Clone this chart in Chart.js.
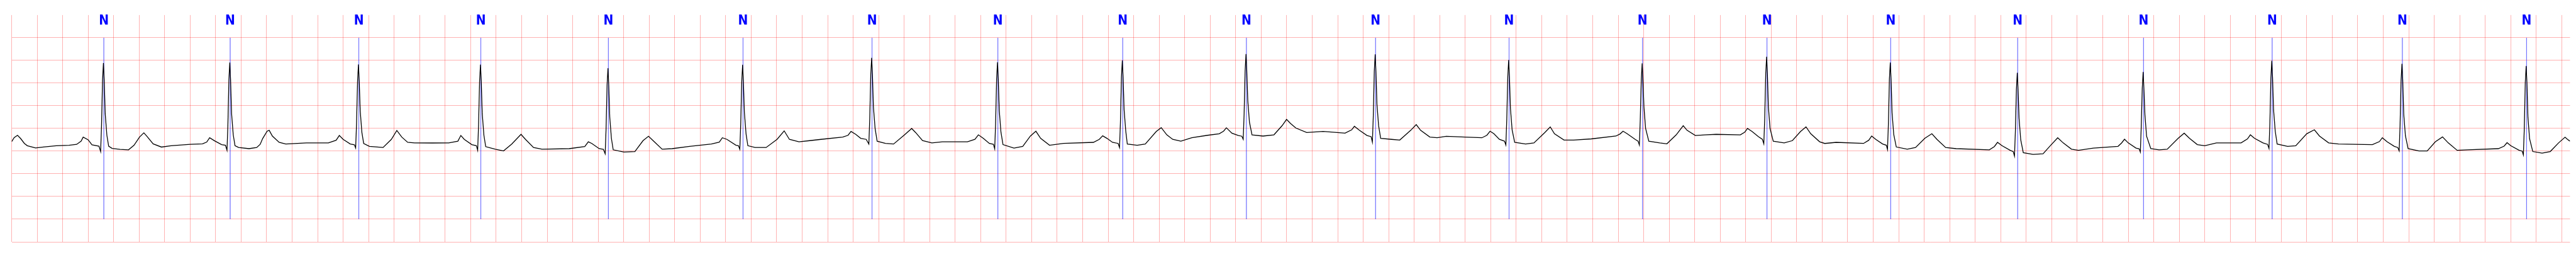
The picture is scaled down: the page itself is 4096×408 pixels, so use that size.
<!DOCTYPE html>
<html lang="en">
<head>
    <meta charset="UTF-8">
    <title>ECG strip</title>
    <style>
        html, body {
            margin: 0;
            padding: 0;
            background: #ffffff;
            overflow: hidden;
        }

        canvas {
            display: block;
        }
    </style>
</head>
<body>
    <canvas id="ecgChart" width="4096" height="408"></canvas>

    <script src="https://cdn.jsdelivr.net/npm/chart.js@4.4.3/dist/chart.umd.min.js"></script>
    <script>
        // time in seconds, amplitude in mV (grid: 0.2 s x 0.5 mV)
        const ecgSamples = [
            [0,-0.29],[0.02,-0.2],[0.046,-0.15],[0.07,-0.22],[0.1,-0.33],[0.123,-0.38],[0.188,-0.43],[0.25,-0.41],[0.35,-0.38],[0.45,-0.37],[0.51,-0.35],
            [0.545,-0.28],[0.561,-0.19],[0.6,-0.25],[0.63,-0.36],[0.685,-0.39],[0.698,-0.51],[0.705,0.06],[0.713,1.07],[0.72,1.444],[0.726,1.07],[0.734,0.32],[0.747,-0.15],[0.761,-0.39],[0.788,-0.44],[0.85,-0.46],[0.917,-0.47],[0.96,-0.37],[1.003,-0.19],[1.037,-0.096],[1.06,-0.17],[1.11,-0.34],[1.175,-0.41],[1.25,-0.38],[1.4,-0.35],[1.497,-0.34],
            [1.53,-0.3],[1.553,-0.205],[1.59,-0.27],[1.647,-0.356],[1.677,-0.37],[1.689,-0.48],[1.696,0.07],[1.704,1.08],[1.711,1.455],[1.717,1.08],[1.725,0.33],[1.738,-0.14],[1.752,-0.38],[1.78,-0.42],[1.862,-0.445],[1.922,-0.42],[1.949,-0.35],[1.969,-0.22],[2.004,-0.06],[2.02,-0.04],[2.045,-0.167],[2.098,-0.306],[2.15,-0.343],[2.312,-0.318],[2.484,-0.318],
            [2.545,-0.26],[2.57,-0.154],[2.6,-0.24],[2.656,-0.343],[2.688,-0.36],[2.698,-0.43],[2.705,0.1],[2.713,1.04],[2.72,1.412],[2.726,1.04],[2.734,0.38],[2.747,-0.09],[2.761,-0.33],[2.806,-0.394],[2.913,-0.42],[2.978,-0.24],[3.021,-0.045],[3.06,-0.19],[3.106,-0.306],[3.16,-0.318],[3.3,-0.32],[3.428,-0.318],
            [3.5,-0.28],[3.523,-0.154],[3.55,-0.24],[3.609,-0.356],[3.645,-0.38],[3.655,-0.48],[3.662,0.07],[3.67,1.04],[3.677,1.409],[3.683,1.04],[3.691,0.32],[3.704,-0.15],[3.718,-0.4],[3.793,-0.457],[3.858,-0.495],[3.922,-0.343],[3.995,-0.129],[4.03,-0.24],[4.093,-0.42],[4.16,-0.457],[4.373,-0.445],
            [4.495,-0.4],[4.523,-0.293],[4.55,-0.33],[4.608,-0.445],[4.641,-0.46],[4.655,-0.558],[4.662,-0.01],[4.67,0.96],[4.677,1.328],[4.683,0.96],[4.691,0.25],[4.704,-0.22],[4.718,-0.47],[4.802,-0.52],[4.888,-0.508],[4.952,-0.268],[4.995,-0.172],[5.04,-0.293],[5.102,-0.457],[5.18,-0.445],[5.317,-0.394],[5.488,-0.343],
            [5.55,-0.3],[5.574,-0.205],[5.61,-0.24],[5.681,-0.37],[5.7,-0.38],[5.711,-0.457],[5.718,0.09],[5.726,1.03],[5.733,1.404],[5.739,1.03],[5.747,0.35],[5.76,-0.12],[5.774,-0.38],[5.831,-0.42],[5.917,-0.42],[6.003,-0.24],[6.059,-0.053],[6.1,-0.24],[6.175,-0.293],[6.26,-0.268],[6.347,-0.24],[6.518,-0.19],
            [6.56,-0.15],[6.583,-0.066],[6.62,-0.13],[6.659,-0.217],[6.702,-0.24],[6.723,-0.343],[6.73,0.21],[6.738,1.19],[6.745,1.556],[6.751,1.19],[6.759,0.47],[6.772,0],[6.788,-0.28],[6.853,-0.33],[6.917,-0.343],[7.003,-0.14],[7.059,0],[7.09,-0.09],[7.144,-0.268],[7.217,-0.318],[7.3,-0.293],[7.496,-0.293],
            [7.555,-0.24],[7.582,-0.14],[7.62,-0.217],[7.668,-0.33],[7.7,-0.35],[7.71,-0.45],[7.717,0.1],[7.725,1.09],[7.732,1.46],[7.738,1.09],[7.746,0.39],[7.759,-0.08],[7.775,-0.356],[7.861,-0.432],[7.93,-0.394],[7.99,-0.167],[8.033,-0.06],[8.07,-0.217],[8.14,-0.37],[8.25,-0.33],[8.484,-0.306],
            [8.53,-0.24],[8.557,-0.162],[8.59,-0.217],[8.634,-0.306],[8.678,-0.33],[8.689,-0.42],[8.696,0.13],[8.704,1.13],[8.711,1.5],[8.717,1.13],[8.725,0.41],[8.738,-0.06],[8.75,-0.343],[8.827,-0.37],[8.891,-0.343],[8.977,-0.066],[9.016,0.018],[9.06,-0.14],[9.106,-0.24],[9.17,-0.28],[9.256,-0.205],[9.38,-0.15],[9.471,-0.116],
            [9.505,-0.06],[9.527,0.015],[9.57,-0.104],[9.621,-0.154],[9.648,-0.17],[9.659,-0.24],[9.666,0.31],[9.674,1.27],[9.681,1.641],[9.687,1.27],[9.695,0.61],[9.708,0.14],[9.728,-0.14],[9.814,-0.167],[9.9,-0.14],[9.964,0.061],[9.999,0.2],[10.03,0.11],[10.072,0.01],[10.157,-0.09],[10.286,-0.066],[10.458,-0.104],
            [10.51,-0.03],[10.531,0.048],[10.57,-0.04],[10.63,-0.154],[10.662,-0.18],[10.672,-0.3],[10.679,0.25],[10.687,1.26],[10.694,1.634],[10.7,1.26],[10.708,0.53],[10.721,0.06],[10.737,-0.217],[10.823,-0.24],[10.887,-0.255],[10.973,-0.04],[11.016,0.086],[11.05,-0.04],[11.123,-0.19],[11.18,-0.205],[11.252,-0.172],[11.4,-0.19],[11.531,-0.205],
            [11.57,-0.15],[11.595,-0.06],[11.625,-0.116],[11.668,-0.24],[11.708,-0.28],[11.719,-0.363],[11.726,0.19],[11.734,1.14],[11.741,1.51],[11.747,1.14],[11.755,0.44],[11.768,-0.03],[11.788,-0.306],[11.874,-0.343],[11.939,-0.318],[12.024,-0.09],[12.067,0.035],[12.1,-0.116],[12.175,-0.255],[12.25,-0.255],[12.389,-0.23],[12.582,-0.167],
            [12.615,-0.12],[12.638,-0.06],[12.67,-0.116],[12.733,-0.24],[12.756,-0.28],[12.766,-0.363],[12.773,0.19],[12.781,1.07],[12.788,1.437],[12.794,1.07],[12.802,0.47],[12.815,0],[12.84,-0.28],[12.926,-0.318],[12.982,-0.338],[13.055,-0.14],[13.11,0.061],[13.14,-0.04],[13.205,-0.154],[13.28,-0.14],[13.368,-0.129],[13.558,-0.14],
            [13.593,-0.08],[13.614,0],[13.65,-0.066],[13.7,-0.18],[13.731,-0.24],[13.742,-0.338],[13.749,0.21],[13.757,1.21],[13.764,1.583],[13.77,1.21],[13.778,0.47],[13.791,0],[13.816,-0.28],[13.902,-0.318],[13.966,-0.268],[14.03,-0.066],[14.073,0.035],[14.11,-0.116],[14.18,-0.293],[14.22,-0.33],[14.309,-0.306],[14.524,-0.33],
            [14.565,-0.26],[14.588,-0.167],[14.62,-0.24],[14.674,-0.343],[14.703,-0.37],[14.712,-0.465],[14.719,0.09],[14.727,1.09],[14.734,1.455],[14.74,1.09],[14.748,0.34],[14.761,-0.13],[14.781,-0.407],[14.867,-0.457],[14.932,-0.42],[15.005,-0.217],[15.06,-0.116],[15.1,-0.24],[15.168,-0.42],[15.25,-0.445],[15.511,-0.47],
            [15.55,-0.4],[15.575,-0.306],[15.61,-0.38],[15.674,-0.482],[15.698,-0.51],[15.708,-0.609],[15.715,-0.06],[15.723,0.86],[15.73,1.227],[15.736,0.86],[15.744,0.22],[15.757,-0.25],[15.777,-0.533],[15.854,-0.571],[15.932,-0.558],[15.992,-0.37],[16.047,-0.205],[16.09,-0.318],[16.155,-0.457],[16.21,-0.482],[16.327,-0.432],[16.52,-0.394],
            [16.548,-0.32],[16.571,-0.237],[16.6,-0.318],[16.661,-0.432],[16.686,-0.45],[16.695,-0.52],[16.702,0.03],[16.71,0.88],[16.717,1.245],[16.723,0.88],[16.731,0.3],[16.744,-0.17],[16.777,-0.445],[16.842,-0.47],[16.906,-0.457],[16.992,-0.217],[17.039,-0.104],[17.08,-0.217],[17.142,-0.356],[17.2,-0.38],[17.292,-0.318],[17.485,-0.318],
            [17.535,-0.23],[17.558,-0.14],[17.59,-0.217],[17.657,-0.318],[17.693,-0.35],[17.704,-0.44],[17.711,0.11],[17.719,1.12],[17.726,1.49],[17.732,1.12],[17.74,0.41],[17.753,-0.06],[17.768,-0.343],[17.85,-0.394],[17.914,-0.38],[18,-0.116],[18.06,-0.028],[18.1,-0.167],[18.172,-0.318],[18.25,-0.343],[18.515,-0.356],
            [18.57,-0.29],[18.593,-0.205],[18.63,-0.293],[18.687,-0.394],[18.714,-0.42],[18.725,-0.495],[18.732,0.06],[18.74,1.06],[18.747,1.424],[18.753,1.06],[18.761,0.31],[18.774,-0.16],[18.795,-0.445],[18.88,-0.495],[18.945,-0.495],[19.009,-0.293],[19.065,-0.187],[19.11,-0.318],[19.18,-0.482],[19.26,-0.47],[19.503,-0.445],
            [19.548,-0.39],[19.571,-0.313],[19.6,-0.38],[19.666,-0.482],[19.69,-0.5],[19.699,-0.583],[19.706,-0.03],[19.714,1.01],[19.721,1.376],[19.727,1.01],[19.735,0.24],[19.748,-0.23],[19.773,-0.508],[19.846,-0.545],[19.91,-0.508],[19.975,-0.318],[20.026,-0.192],[20.045,-0.24],[20.065,-0.28]
        ];

        // beat annotations (sample time of each label)
        const beatTimes = [0.723, 1.714, 2.723, 3.680, 4.680, 5.736, 6.748, 7.735, 8.714, 9.684,
                           10.697, 11.744, 12.791, 13.767, 14.737, 15.733, 16.720, 17.729, 18.750, 19.724];
        const beatLabels = ['N', 'N', 'N', 'N', 'N', 'N', 'N', 'N', 'N', 'N',
                            'N', 'N', 'N', 'N', 'N', 'N', 'N', 'N', 'N', 'N'];

        const timeRange = [0, 20.065];
        const mvRange = [-2.5, 2.5];
        const markerSpan = [-2.0, 2.0];
        const labelLevel = 2.29;

        const gridColor = 'rgba(255, 0, 0, 0.3)';

        // one dataset for all marker lines, broken by NaN gaps
        const markerLine = [];
        beatTimes.forEach(t => {
            markerLine.push({x: t, y: markerSpan[1]});
            markerLine.push({x: t, y: markerSpan[0]});
            markerLine.push({x: t, y: NaN});
        });

        const beatLabelPlugin = {
            id: 'beatLabels',
            afterDatasetsDraw(chart) {
                const ctx = chart.ctx;
                const xs = chart.scales.x;
                const ys = chart.scales.y;
                ctx.save();
                ctx.fillStyle = '#0000ff';
                ctx.font = "bold 21px 'Liberation Sans Narrow', 'DejaVu Sans Condensed', 'Liberation Sans', sans-serif";
                ctx.textAlign = 'center';
                ctx.textBaseline = 'alphabetic';
                beatTimes.forEach((t, i) => {
                    ctx.fillText(beatLabels[i], xs.getPixelForValue(t), ys.getPixelForValue(labelLevel));
                });
                ctx.restore();
            }
        };

        new Chart(document.getElementById('ecgChart'), {
            type: 'scatter',
            data: {
                datasets: [
                    {
                        label: 'ECG',
                        data: ecgSamples.map(([t, v]) => ({x: t, y: v})),
                        showLine: true,
                        borderColor: '#000000',
                        borderWidth: 1.3,
                        pointRadius: 0,
                        tension: 0
                    },
                    {
                        label: 'beats',
                        data: markerLine,
                        showLine: true,
                        spanGaps: false,
                        borderColor: 'rgba(0, 0, 255, 0.35)',
                        borderWidth: 0.8,
                        pointRadius: 0
                    }
                ]
            },
            options: {
                responsive: false,
                animation: false,
                devicePixelRatio: 1,
                layout: {
                    padding: {left: 18.5, right: 9.5, top: 23.9, bottom: 24}
                },
                plugins: {
                    legend: {display: false},
                    tooltip: {enabled: false}
                },
                scales: {
                    x: {
                        type: 'linear',
                        min: timeRange[0],
                        max: timeRange[1],
                        border: {display: false},
                        ticks: {display: false, stepSize: 0.2, includeBounds: false},
                        grid: {color: gridColor, lineWidth: 1, drawTicks: false}
                    },
                    y: {
                        type: 'linear',
                        min: mvRange[0],
                        max: mvRange[1],
                        border: {display: false},
                        ticks: {display: false, stepSize: 0.5},
                        grid: {
                            color: c => c.tick && c.tick.value >= mvRange[1] ? 'rgba(0,0,0,0)' : gridColor,
                            lineWidth: 1,
                            drawTicks: false
                        }
                    }
                }
            },
            plugins: [beatLabelPlugin]
        });
    </script>
</body>
</html>
